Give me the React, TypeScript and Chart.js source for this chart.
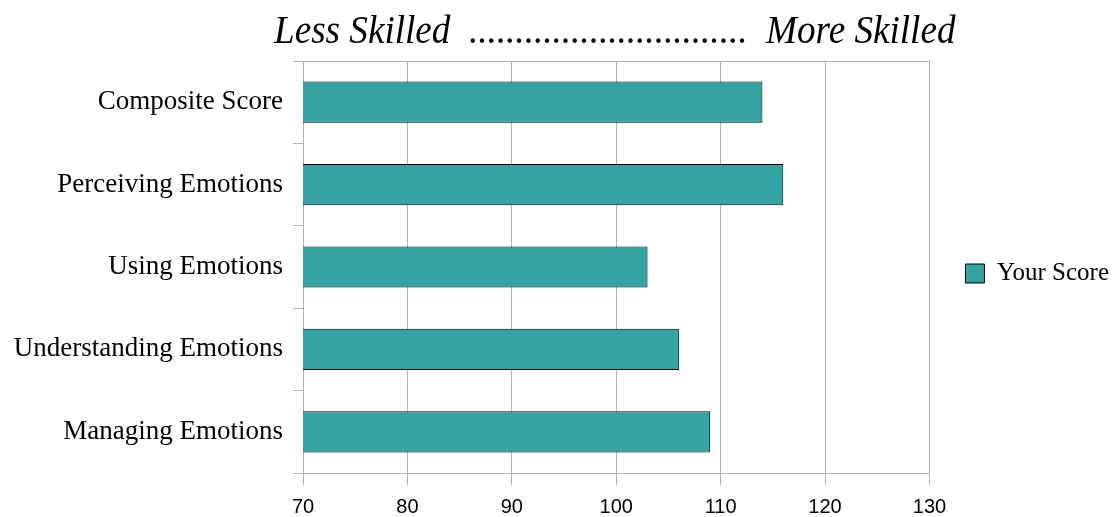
import React, { useEffect, useRef } from "react";
import { Chart, registerables } from "chart.js";

Chart.register(...registerables);

const categories = [
  "Composite Score",
  "Perceiving Emotions",
  "Using Emotions",
  "Understanding Emotions",
  "Managing Emotions",
];
const yourScore = [114, 116, 103, 106, 109];
const seriesName = "Your Score";
const xMin = 70;
const xMax = 130;
const xStep = 10;
const titleText = "Less Skilled  ..............................  More Skilled";

const GRID = "#b3b3b3";
const TEAL = "#33a3a3";
const SERIF = "'Liberation Serif', 'Times New Roman', serif";
const SANS = "'Liberation Sans', Arial, sans-serif";

// Let the title extend a little beyond the plot area, as in the reference
const titleSpread = {
  id: "titleSpread",
  afterLayout(chart: any) {
    const t = chart.titleBlock;
    const ca = chart.chartArea;
    if (!t || !ca) return;
    t.left = ca.left - 29;
    t.right = ca.right + 26;
    t.width = t.right - t.left;
  },
};

export default function App() {
  const ref = useRef<HTMLCanvasElement>(null);
  useEffect(() => {
    if (!ref.current) return;
    const chart = new Chart(ref.current, {
      type: "bar",
      data: {
        labels: categories,
        datasets: [
          {
            label: seriesName,
            data: yourScore,
            backgroundColor: TEAL,
            borderColor: "#000000",
            borderWidth: 1,
            borderSkipped: false,
            barPercentage: 0.5,
            categoryPercentage: 1,
          },
        ],
      },
      plugins: [titleSpread],
      options: {
        indexAxis: "y",
        animation: false,
        responsive: false,
        layout: { padding: { left: 0, right: -7, top: 0, bottom: -12 } },
        plugins: {
          title: {
            display: true,
            text: titleText,
            fullSize: false,
            color: "#000",
            font: { family: SERIF, size: 39, style: "italic", weight: "normal", lineHeight: 1.2 },
            padding: { top: 9, bottom: 5.2 },
          },
          legend: {
            display: true,
            position: "right",
            title: { display: true, text: " ", font: { size: 10, lineHeight: 1.2 }, padding: 3 },
            labels: {
              color: "#000",
              boxWidth: 19,
              boxHeight: 19,
              padding: 36,
              font: { family: SERIF, size: 25 },
            },
          },
          tooltip: { enabled: false },
        },
        scales: {
          x: {
            type: "linear",
            min: xMin,
            max: xMax,
            ticks: {
              stepSize: xStep,
              color: "#000",
              padding: 12,
              font: { family: SANS, size: 20, lineHeight: 1 },
            },
            grid: { color: GRID, tickLength: 12, lineWidth: 1 },
            border: { color: GRID },
          },
          y: {
            type: "category",
            offset: true,
            afterFit: (scale: any) => {
              scale.width = 303;
            },
            ticks: {
              color: "#000",
              padding: 10,
              font: { family: SERIF, size: 27 },
            },
            grid: {
              offset: true,
              tickLength: 10,
              tickColor: GRID,
              color: (c: any) => (c.index === 0 || c.index === undefined ? GRID : "rgba(0,0,0,0)"),
            },
            border: { color: GRID },
          },
        },
      },
    });
    return () => chart.destroy();
  }, []);
  return (
    <div style={{ position: "absolute", left: 0, top: 0, width: 1112, height: 517, background: "#fff" }}>
      <canvas ref={ref} width={1112} height={517} style={{ display: "block" }} />
    </div>
  );
}
